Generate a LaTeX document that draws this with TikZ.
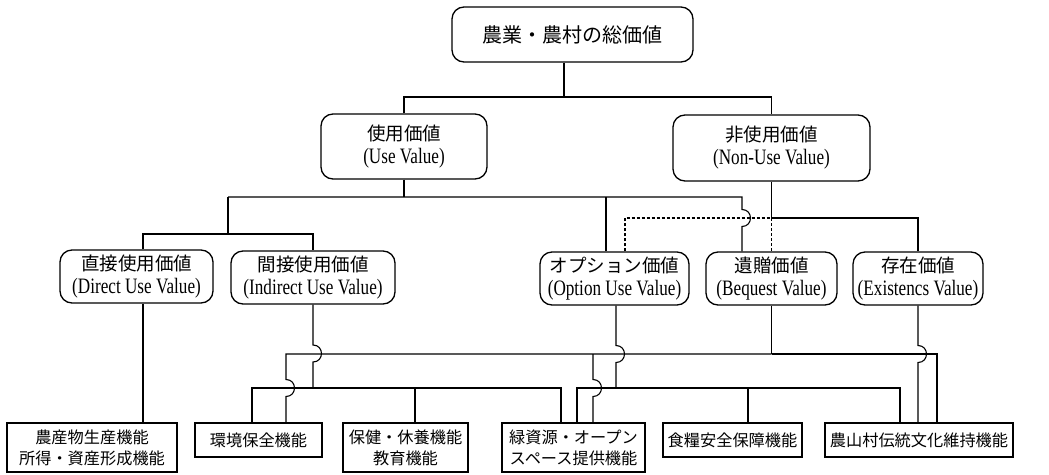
\documentclass[tikz,border=0pt]{standalone}
\usepackage{fontspec}
\setmainfont{Liberation Serif}
\newfontfamily\jpfont{Noto Sans CJK JP}
\newfontfamily\enfont[FakeStretch=0.78]{Liberation Serif}
\newcommand\ev[1]{{\enfont\fontsize{22}{23}\selectfont(#1)}}
\newcommand\hopv[2]{-- (#1,#2-8.5) .. controls (#1+11.3,#2-8.5) and (#1+11.3,#2+8.5) .. (#1,#2+8.5)}
\begin{document}
\begin{tikzpicture}[x=1pt,y=-1pt,
  lnk/.style={line width=1.1pt},
  dlnk/.style={line width=1.1pt, dash pattern=on 3pt off 2pt},
  vbox/.style={draw, line width=1.3pt, rounded corners=12pt, align=center, inner sep=0pt,
    font=\jpfont\fontsize{18.5}{23}\selectfont},
  fbox/.style={draw, line width=1.3pt, align=center, inner sep=0pt,
    font=\jpfont\fontsize{16.2}{21}\selectfont}]
\useasboundingbox (0,0) rectangle (1049,474);

% value nodes
\node[vbox, minimum width=241pt, minimum height=55pt, font=\jpfont\fontsize{20}{24}\selectfont] (top) at (572.5,34.5) {農業・農村の総価値};
\node[vbox, minimum width=166pt, minimum height=65pt] (use) at (404,146.5) {使用価値\\\ev{Use Value}};
\node[vbox, minimum width=197pt, minimum height=66pt] (nonuse) at (771.5,148) {非使用価値\\\ev{Non-Use Value}};
\node[vbox, minimum width=153pt, minimum height=53pt] (direct) at (136.5,276.5) {直接使用価値\\\ev{Direct Use Value}};
\node[vbox, minimum width=164pt, minimum height=53pt] (indirect) at (313,277.5) {間接使用価値\\\ev{Indirect Use Value}};
\node[vbox, minimum width=149pt, minimum height=53pt] (option) at (614.5,278.5) {オプション価値\\\ev{Option Use Value}};
\node[vbox, minimum width=131pt, minimum height=53pt] (bequest) at (771.5,278.5) {遺贈価値\\\ev{Bequest Value}};
\node[vbox, minimum width=130pt, minimum height=53pt] (exist) at (918,278.5) {存在価値\\\ev{Existencs Value}};

% function nodes
\node[fbox, minimum width=170pt, minimum height=49pt] (b1) at (92,447.5) {農産物生産機能\\所得・資産形成機能};
\node[fbox, minimum width=127pt, minimum height=34pt] (b2) at (258.5,440) {環境保全機能};
\node[fbox, minimum width=125pt, minimum height=49pt] (b3) at (405.5,447.5) {保健・休養機能\\教育機能};
\node[fbox, minimum width=143pt, minimum height=49pt] (b4) at (573.5,447.5) {緑資源・オープン\\スペース提供機能};
\node[fbox, minimum width=139pt, minimum height=34pt] (b5) at (732.5,440) {食糧安全保障機能};
\node[fbox, minimum width=188pt, minimum height=34pt] (b6) at (919,440) {農山村伝統文化維持機能};

% junction points
\coordinate (t0) at (564,97);
\coordinate (u0) at (228,197);
\coordinate (u1) at (228,234);
\coordinate (n0) at (771.5,218);
\coordinate (i0) at (313,388);
\coordinate (o0) at (616,388);
\coordinate (q0) at (771.5,354);

% total value
\draw[lnk] (top.south -| t0) -- (t0);
\draw[lnk] (use.north) |- (nonuse.north |- t0) -- (nonuse.north);

% use value
\draw[lnk] (use.south) -- (use.south |- u0);
\draw[lnk] (u0) -- (742,197) \hopv{742}{218} -- ([xshift=-29.5pt]bequest.north);
\draw[lnk] ([xshift=-8.5pt]option.north) -- ([xshift=-8.5pt]option.north |- u0);
\draw[lnk] (u0) -- (u1);
\draw[lnk] ([xshift=6.5pt]direct.north) |- (indirect.north |- u1) -- (indirect.north);

% non-use value
\draw[lnk] (nonuse.south) -- (n0) -| (exist.north);
\draw[dlnk] ([xshift=10.5pt]option.north) |- (n0) -- (bequest.north);

% direct use
\draw[lnk] ([xshift=6.5pt]direct.south) -- ([xshift=6.5pt]direct.south |- b1.north);

% indirect use
\draw[lnk] (indirect.south) \hopv{313}{353.5} -- (i0);
\draw[lnk] ([xshift=-6.5pt]b2.north) |- (i0) -| ([xshift=-12.5pt]b4.north);
\draw[lnk] ([xshift=9.5pt]b3.north) -- ([xshift=9.5pt]b3.north |- i0);

% option value
\draw[lnk] ([xshift=1.5pt]option.south) \hopv{616}{354} -- (o0);
\draw[lnk] ([xshift=3.5pt]b4.north) |- (o0) -| ([xshift=-19pt]b6.north);
\draw[lnk] ([xshift=15.5pt]b5.north) -- ([xshift=15.5pt]b5.north |- o0);

% bequest value (non-use bus)
\draw[lnk] (bequest.south) -- (q0);
\draw[lnk] (q0) -- (286,354) \hopv{286}{388} -- ([xshift=27.5pt]b2.north);
\draw[lnk] (593,354) \hopv{593}{388} -- ([xshift=19.5pt]b4.north);
\draw[lnk] (q0) -- (937,354) -- ([xshift=18pt]b6.north);

% existence value
\draw[lnk] (exist.south) \hopv{918}{354} -- (exist.south |- b6.north);
\end{tikzpicture}
\end{document}
